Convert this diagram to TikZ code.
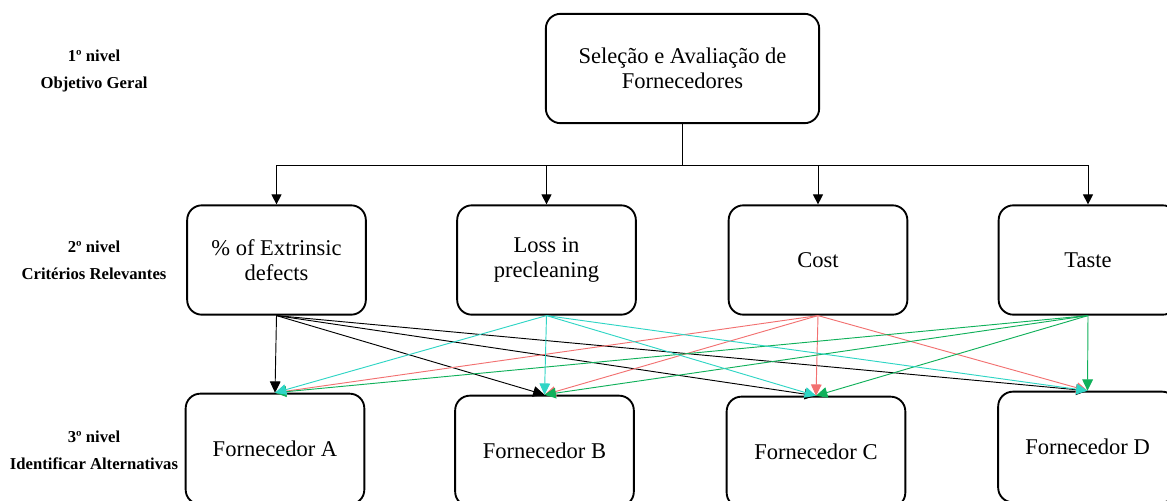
\documentclass[tikz,border=0pt]{standalone}
\usepackage{fontspec}
\setmainfont{Liberation Serif}
\usepackage{tikz}
\usetikzlibrary{arrows.meta}
\definecolor{turquesa}{HTML}{2FD5C5}
\definecolor{coral}{HTML}{F27171}
\definecolor{verde}{HTML}{10B05A}

\begin{document}
\begin{tikzpicture}[x=0.75pt,y=-0.75pt,
  caixa/.style={draw,line width=1.4pt,rounded corners=11pt,align=center,
    minimum width=134pt,minimum height=82pt,font=\fontsize{16.9}{18.75}\selectfont},
  nivel/.style={align=center,font=\fontsize{12.5}{20.25}\selectfont\bfseries},
  seta/.style={-{Triangle[length=7.5pt,width=7.5pt]},line width=0.7pt},
  ligacao/.style={-{Triangle[length=8.5pt,width=8pt]},line width=0.7pt}]
\path[use as bounding box,clip] (0,0) rectangle (1167,500);

% niveis
\node[nivel] (n1) at (94,71) {1º nivel\\Objetivo Geral};
\node[nivel] (n2) at (94,260) {2º nivel\\Critérios Relevantes};
\node[nivel] (n3) at (94,450) {3º nivel\\Identificar Alternativas};

% objetivo
\node[caixa,minimum width=205pt] (goal) at (682.5,68.5) {Seleção e Avaliação de\\Fornecedores};

% criterios
\node[caixa] (c1) at (276.5,260) {\% of Extrinsic\\defects};
\node[caixa] (c2) at (546.5,260) {Loss in\\precleaning};
\node[caixa] (c3) at (818,260) {Cost};
\node[caixa] (c4) at (1088,260) {Taste};

% alternativas
\node[caixa,minimum height=83pt] (a1) at (275,449) {Fornecedor A};
\node[caixa,minimum height=83pt] (a2) at (544.5,451) {Fornecedor B};
\node[caixa,minimum height=83pt] (a3) at (816,452) {Fornecedor C};
\node[caixa,minimum height=83pt] (a4) at (1087.5,447) {Fornecedor D};

% arvore
\coordinate (bar) at (682.5,165);
\draw[line width=0.7pt] (goal.south) -- (bar);
\foreach \c in {c1,c2,c3,c4}
  \draw[seta] (bar) -| (\c.north);

% ligacoes
\foreach \c/\cor in {c1/black,c3/coral,c4/verde,c2/turquesa}
  \foreach \a in {a1,a2,a3,a4}
    \draw[ligacao,\cor] (\c.south) -- (\a.north);
\end{tikzpicture}
\end{document}
